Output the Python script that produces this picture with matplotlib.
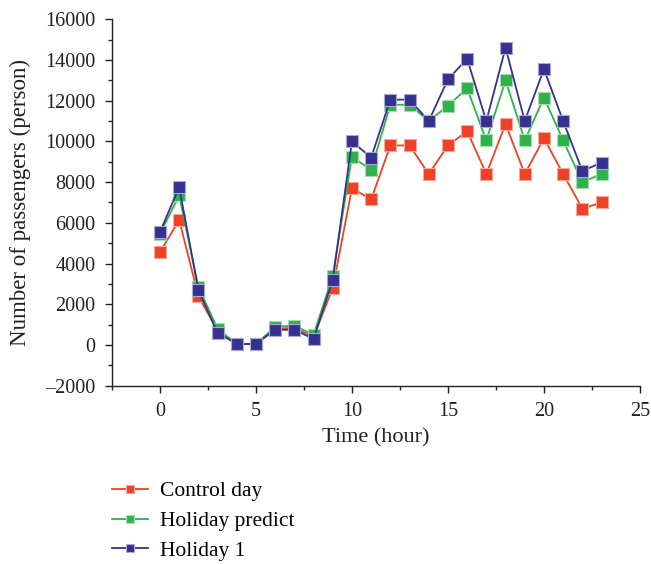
import matplotlib
matplotlib.use("Agg")
import matplotlib.pyplot as plt
from matplotlib.ticker import MultipleLocator, FuncFormatter

hours = list(range(24))

control_day = [4550, 6150, 2400, 700, 50, 50, 800, 850, 400, 2800, 7700, 7150,
               9800, 9800, 8400, 9800, 10500, 8400, 10850, 8400, 10150, 8400, 6700, 7000]
holiday_predict = [5450, 7350, 2850, 800, 50, 50, 900, 950, 500, 3400, 9250, 8600,
                   11800, 11800, 11000, 11750, 12600, 10050, 13000, 10050, 12150, 10050, 8000, 8400]
holiday_1 = [5550, 7750, 2700, 600, 50, 50, 750, 750, 300, 3200, 10000, 9200,
             12050, 12050, 11000, 13050, 14050, 11000, 14600, 11000, 13550, 11000, 8550, 8950]

series_names = ["Control day", "Holiday predict", "Holiday 1"]
series_colors = ["#EE4126", "#2DB34A", "#35318F"]
edge_colors = ["#F7A898", "#A6DDB0", "#A9A6D4"]

plt.rcParams['font.family'] = ['Liberation Serif', 'DejaVu Serif']

fig = plt.figure(figsize=(6.51, 5.64), dpi=100)
ax = fig.add_axes([0.172, 0.316, 0.811, 0.650])

for vals, name, c, ec in zip([control_day, holiday_predict, holiday_1],
                             series_names, series_colors, edge_colors):
    ax.plot(hours, vals, color=c, linewidth=1.3, marker='s', markersize=8,
            markerfacecolor=c, markeredgecolor=ec, markeredgewidth=0.8, label=name)

ax.set_xlim(-2.5, 25)
ax.set_ylim(-2000, 16000)
ax.xaxis.set_major_locator(MultipleLocator(5))
ax.xaxis.set_minor_locator(MultipleLocator(2.5))
ax.yaxis.set_major_locator(MultipleLocator(2000))
ax.yaxis.set_minor_locator(MultipleLocator(1000))
ax.yaxis.set_major_formatter(FuncFormatter(lambda v, p: f"{v:.0f}".replace("-", "\u2013")))
ax.spines['top'].set_visible(False)
ax.spines['right'].set_visible(False)
for s in ['left', 'bottom']:
    ax.spines[s].set_linewidth(1.0)
    ax.spines[s].set_color('#222222')
ax.tick_params(which='major', direction='out', length=5, width=1.0, labelsize=14.5,
               colors='#222222', pad=7)
ax.tick_params(which='minor', direction='out', length=3, width=1.0, colors='#222222')

ax.set_xlabel('Time (hour)', fontsize=16, color='#222222', labelpad=5)
ax.set_ylabel('Number of passengers (person)', fontsize=16.5, color='#222222', labelpad=10)

ax.legend(loc='upper left', bbox_to_anchor=(112 / 651, 1 - 481 / 564),
          bbox_transform=fig.transFigure, frameon=False, borderpad=0, borderaxespad=0,
          fontsize=15.5, handlelength=1.67, handletextpad=0.55, markerscale=0.75,
          labelspacing=0.46)

fig.savefig("out.png", dpi=100)
